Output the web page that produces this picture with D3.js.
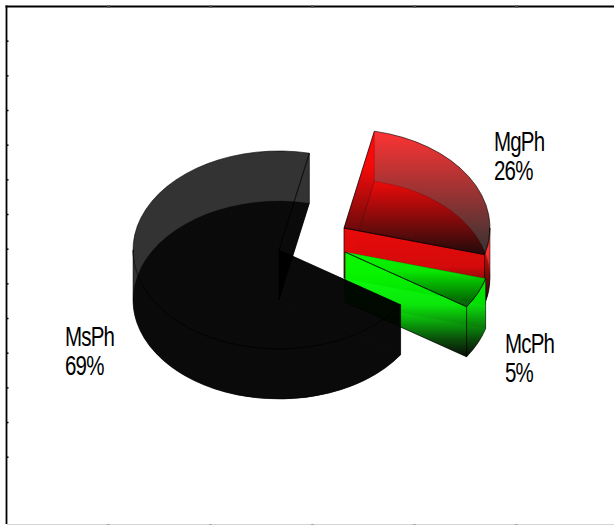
<!DOCTYPE html>
<html>
<head>
<meta charset="utf-8">
<script src="https://cdn.jsdelivr.net/npm/d3@7"></script>
<style>
html, body { margin: 0; padding: 0; background: #fff; }
svg { display: block; }
text { font-family: "Liberation Sans", Arial, sans-serif; font-size: 27px; fill: #000; }
</style>
</head>
<body>
<svg id="chart" width="614" height="525"></svg>
<script>
// Phase shares of the three slices
const categories = ["MgPh", "McPh", "MsPh"];
const shares = [26, 5, 69];
const sliceColors = ["#ff0000", "#00ff00", "#000000"];

// Tick positions along the frame, in frame units
const xTickValues = [1, 2, 3, 4, 5];
const yTickValues = d3.range(1, 14);

// Pie geometry
const firstSliceDeg = 12;
const radiusX = 146, radiusY = 99, depth = 50;
const sliceCentres = [[344, 228], [345, 252], [279, 250]];
const labelAnchors = [[494, 151], [505, 353], [65, 346]];

// Per-face fade (bounding-box fractions where the colour is held and where it reaches black)
// and outline strength
const faceStyles = [
  { hold: 0, end: 1, edge: 0 },          // upper sector, outlined separately
  { hold: 0, end: 0.67, edge: 0.22 },    // lower sector
  { hold: 0.25, end: 1, edge: 0.22 },    // wall at the slice's first edge
  { hold: 0.5, end: 1, edge: 0.85 },     // wall at the slice's last edge
  { hold: 0.3, end: 1, edge: 0.7 }       // outer wall
];
// The small slice butts against its neighbour, so its first edge carries no line
const outlineFirstEdge = [true, false, true];

const svg = d3.select("#chart");
const defs = svg.append("defs");

const xScale = d3.scaleLinear().domain([0, 5]).range([6.5, 516.5]);
const yScale = d3.scaleLinear().domain([0, 13]).range([6.5, 457.2]);

// Frame: heavy top and left edges, faint bottom edge
const frame = svg.append("g");
frame.append("line").attr("x1", 5.5).attr("x2", 614).attr("y1", 6.5).attr("y2", 6.5)
  .attr("stroke", "#000").attr("stroke-width", 1.8);
frame.append("line").attr("x1", 6.5).attr("x2", 6.5).attr("y1", 5.5).attr("y2", 524)
  .attr("stroke", "#000").attr("stroke-width", 1.8);
frame.append("line").attr("x1", 7).attr("x2", 614).attr("y1", 524.5).attr("y2", 524.5)
  .attr("stroke", "#d4d4d4").attr("stroke-width", 1);

frame.selectAll(".ytick").data(yTickValues).join("line")
  .attr("class", "ytick")
  .attr("x1", 6).attr("x2", 8.5)
  .attr("y1", d => yScale(d)).attr("y2", d => yScale(d))
  .attr("stroke", "#000").attr("stroke-width", 1.5);
frame.selectAll(".xtick").data(xTickValues).join("line")
  .attr("class", "xtick")
  .attr("x1", d => xScale(d)).attr("x2", d => xScale(d))
  .attr("y1", 5.5).attr("y2", 7.5)
  .attr("stroke", "#444").attr("stroke-width", 3);
frame.selectAll(".btick").data(xTickValues).join("line")
  .attr("class", "btick")
  .attr("x1", d => xScale(d)).attr("x2", d => xScale(d))
  .attr("y1", 524).attr("y2", 525)
  .attr("stroke", "#aaa").attr("stroke-width", 3);

// Vertical fade used by the faces of a slice
function fade(id, color, { hold, end }) {
  const g = defs.append("linearGradient").attr("id", id)
    .attr("x1", 0).attr("y1", 0).attr("x2", 0).attr("y2", 1);
  g.append("stop").attr("offset", hold).attr("stop-color", color);
  g.append("stop").attr("offset", end).attr("stop-color", "#000");
  return `url(#${id})`;
}

const pie = d3.pie().sort(null).value(d => d)
  .startAngle(firstSliceDeg * Math.PI / 180)
  .endAngle(firstSliceDeg * Math.PI / 180 + 2 * Math.PI);
const arcs = pie(shares);

const rim = (c, t, dz = 0) => [c[0] + radiusX * Math.sin(t), c[1] - radiusY * Math.cos(t) + dz];

function sectorPath(c, a0, a1, dz) {
  const p0 = rim(c, a0, dz), p1 = rim(c, a1, dz);
  const large = a1 - a0 > Math.PI ? 1 : 0;
  return `M${c[0]},${c[1] + dz}L${p0}A${radiusX},${radiusY} 0 ${large} 1 ${p1}Z`;
}
function sectorOutline(c, a0, a1, withFirstEdge) {
  const p0 = rim(c, a0), p1 = rim(c, a1);
  const large = a1 - a0 > Math.PI ? 1 : 0;
  return `M${p0}A${radiusX},${radiusY} 0 ${large} 1 ${p1}L${c}` + (withFirstEdge ? `L${p0}` : "");
}
function radialWall(c, a) {
  const p = rim(c, a), q = rim(c, a, depth);
  return `M${c[0]},${c[1]}L${p}L${q}L${c[0]},${c[1] + depth}Z`;
}
// Outer wall: only the portions that lie on the near half of the ellipse
function outerWall(c, a0, a1) {
  const spans = [];
  for (const [lo, hi] of [[Math.PI / 2, 3 * Math.PI / 2], [5 * Math.PI / 2, 7 * Math.PI / 2]]) {
    const s = Math.max(a0, lo), e = Math.min(a1, hi);
    if (e > s) spans.push([s, e]);
  }
  return spans.map(([s, e]) => {
    const p0 = rim(c, s), p1 = rim(c, e), p2 = rim(c, e, depth), p3 = rim(c, s, depth);
    return `M${p0}A${radiusX},${radiusY} 0 0 1 ${p1}L${p2}A${radiusX},${radiusY} 0 0 0 ${p3}Z`;
  }).join("");
}

const slices = svg.selectAll(".slice").data(arcs).join("g").attr("class", "slice");
slices.each(function (d, i) {
  const g = d3.select(this);
  const c = sliceCentres[i];
  const faces = [
    sectorPath(c, d.startAngle, d.endAngle, 0),
    sectorPath(c, d.startAngle, d.endAngle, depth),
    radialWall(c, d.startAngle),
    radialWall(c, d.endAngle),
    outerWall(c, d.startAngle, d.endAngle)
  ];
  g.selectAll("path.face").data(faces).join("path")
    .attr("class", "face")
    .attr("d", p => p)
    .attr("fill", (p, j) => fade(`fade-${i}-${j}`, sliceColors[i], faceStyles[j]))
    .attr("fill-opacity", 0.8)
    .attr("stroke", "#000")
    .attr("stroke-opacity", (p, j) => faceStyles[j].edge)
    .attr("stroke-width", 0.7);
  g.append("path")
    .attr("d", sectorOutline(c, d.startAngle, d.endAngle, outlineFirstEdge[i]))
    .attr("fill", "none")
    .attr("stroke", "#000")
    .attr("stroke-opacity", 0.85)
    .attr("stroke-width", 0.7);
});

// Name and share beside each slice, set in a condensed width
const labels = svg.selectAll(".label").data(arcs).join("text")
  .attr("class", "label")
  .attr("letter-spacing", -1.1)
  .attr("transform", (d, i) => `translate(${labelAnchors[i]}) scale(0.76,1)`);
labels.append("tspan").attr("x", 0).attr("y", 0).text((d, i) => categories[i]);
labels.append("tspan").attr("x", 0).attr("y", 29.5).text(d => `${d.value}%`);
</script>
</body>
</html>
